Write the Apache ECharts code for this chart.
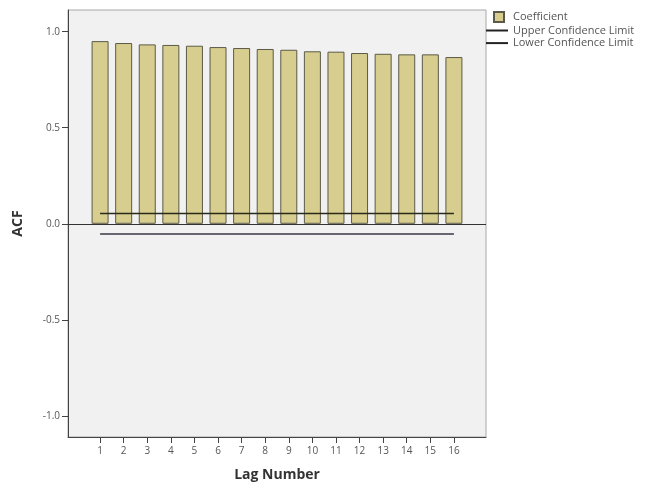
<!DOCTYPE html>
<html>
<head>
<meta charset="utf-8">
<script src="https://cdn.jsdelivr.net/npm/echarts@6/dist/echarts.min.js"></script>
<style>html,body{margin:0;padding:0;background:#fff;}#c{width:650px;height:490px;}</style>
</head>
<body>
<div id="c"></div>
<script>
var lags = [1,2,3,4,5,6,7,8,9,10,11,12,13,14,15,16];
var acf = [0.951,0.941,0.934,0.931,0.927,0.920,0.915,0.910,0.906,0.898,0.896,0.889,0.885,0.882,0.882,0.868];
var upper = [0.053,0.053,0.053,0.053,0.053,0.053,0.053,0.053,0.053,0.053,0.053,0.053,0.053,0.053,0.053,0.053];
var lower = [-0.053,-0.053,-0.053,-0.053,-0.053,-0.053,-0.053,-0.053,-0.053,-0.053,-0.053,-0.053,-0.053,-0.053,-0.053,-0.053];
var yTicks = [-1, -0.5, 0, 0.5, 1];

var chart = echarts.init(document.getElementById('c'), null, {renderer:'canvas'});
var font = 'Open Sans';
chart.setOption({
  animation: false,
  backgroundColor: '#ffffff',
  grid: {left: 68, right: 164, top: 10, bottom: 53, show: true,
         backgroundColor: '#f1f1f1', borderColor: '#a8a8a8', borderWidth: 1},
  legend: [
    {data: [{name: 'Coefficient', icon: 'rect'}], orient: 'vertical', left: 493, top: 11, padding: 0,
     itemWidth: 10, itemHeight: 10,
     textStyle: {fontFamily: font, fontSize: 11, color: '#555', padding: [0,0,0,4]}},
    {data: [{name: 'Upper Confidence Limit', icon: 'rect'}, {name: 'Lower Confidence Limit', icon: 'rect'}],
     orient: 'vertical', left: 486, top: 25, itemGap: 1.6, padding: 0,
     itemWidth: 22, itemHeight: 2,
     textStyle: {fontFamily: font, fontSize: 11, color: '#555'}}
  ],
  xAxis: {
    type: 'value', min: -0.36, max: 17.36,
    name: 'Lag Number', nameLocation: 'middle', nameGap: 31,
    nameTextStyle: {fontFamily: font, fontSize: 14, fontWeight: 'bold', color: '#333'},
    axisLine: {show: true, onZero: false, lineStyle: {color: '#444', width: 1}},
    axisTick: {show: true, length: 6, customValues: lags, lineStyle: {color: '#444'}},
    axisLabel: {customValues: lags, margin: 9, fontFamily: font, fontSize: 10, color: '#555'},
    splitLine: {show: false}
  },
  yAxis: {
    type: 'value', min: -1.11, max: 1.113,
    name: 'ACF', nameLocation: 'middle', nameGap: 43, nameRotate: 90,
    nameTextStyle: {fontFamily: font, fontSize: 14, fontWeight: 'bold', color: '#333'},
    axisLine: {show: true, onZero: false, lineStyle: {color: '#444', width: 1}},
    axisTick: {show: true, length: 6, customValues: yTicks, lineStyle: {color: '#444'}},
    axisLabel: {customValues: yTicks, margin: 8, fontFamily: font, fontSize: 10, color: '#555',
                formatter: function(v){ return v.toFixed(1); }},
    splitLine: {show: false}
  },
  series: [
    {name: 'Coefficient', type: 'bar', barWidth: 17,
     data: lags.map(function(l, i){ return [l, acf[i]]; }),
     itemStyle: {color: '#d7cd8e', borderColor: '#5b5a48', borderWidth: 1},
     markLine: {silent: true, symbol: 'none', label: {show: false},
                lineStyle: {color: '#333', width: 1, type: 'solid'},
                data: [{yAxis: 0}]}},
    {name: 'Upper Confidence Limit', type: 'line', symbol: 'none',
     data: lags.map(function(l, i){ return [l, upper[i]]; }),
     itemStyle: {color: '#222'}, lineStyle: {color: '#2a2a1a', width: 1.5}},
    {name: 'Lower Confidence Limit', type: 'line', symbol: 'none',
     data: lags.map(function(l, i){ return [l, lower[i]]; }),
     itemStyle: {color: '#222'}, lineStyle: {color: '#3a3a48', width: 1.5}}
  ]
});
</script>
</body>
</html>
